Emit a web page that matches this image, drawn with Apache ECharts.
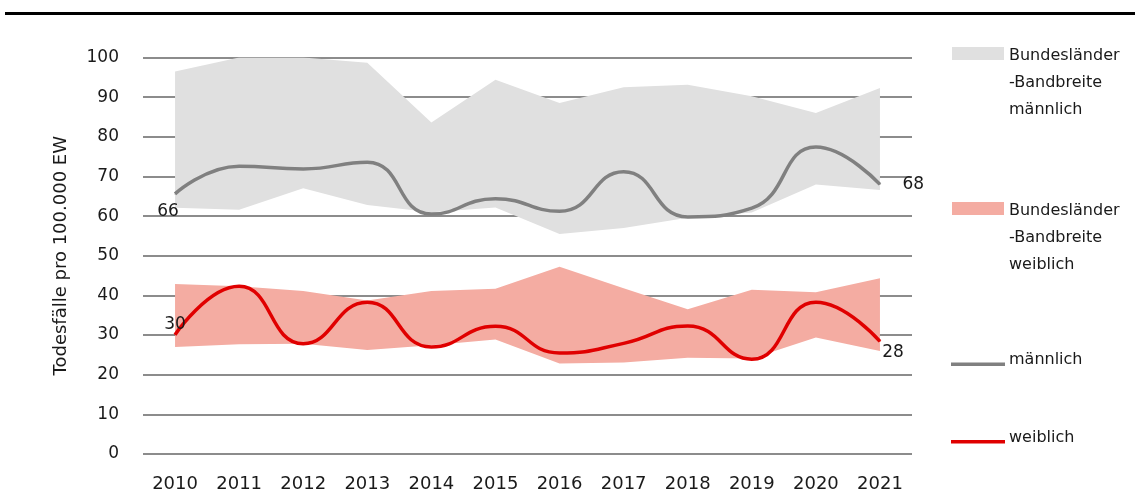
<!DOCTYPE html>
<html>
<head>
<meta charset="utf-8">
<script src="https://cdn.jsdelivr.net/npm/echarts@6/dist/echarts.min.js"></script>
<style>
  html, body { margin: 0; padding: 0; background: #fff; }
  #chart { width: 1135px; height: 493px; }
</style>
</head>
<body>
<div id="chart"></div>
<script>
// Todesfälle pro 100.000 EW, 2010-2021
var years = ['2010', '2011', '2012', '2013', '2014', '2015', '2016', '2017', '2018', '2019', '2020', '2021'];
var yTicks = [0, 10, 20, 30, 40, 50, 60, 70, 80, 90, 100];

// Bundesländer-Bandbreite männlich (min / max)
var maleMin = [62.1, 61.6, 67.0, 62.8, 61.0, 62.2, 55.5, 57.0, 59.6, 60.9, 68.0, 66.6];
var maleMax = [96.5, 100, 100, 98.7, 83.6, 94.4, 88.5, 92.5, 93.1, 90.2, 86.0, 92.3];
// Bundesländer-Bandbreite weiblich (min / max)
var femaleMin = [27.0, 27.7, 27.8, 26.2, 27.4, 28.9, 22.8, 23.1, 24.3, 24.1, 29.4, 26.0];
var femaleMax = [42.9, 42.3, 41.1, 38.7, 41.1, 41.7, 47.2, 41.8, 36.5, 41.4, 40.8, 44.3];

// Bundeswerte
var male = [65.6, 72.6, 71.9, 73.6, 60.5, 64.4, 61.2, 71.2, 59.8, 62.0, 77.4, 68.0];
var female = [30.1, 42.3, 27.8, 38.3, 27.0, 32.2, 25.5, 27.9, 32.3, 23.9, 38.3, 28.4];

var txt = '#1a1a1a';
var fnt = 'DejaVu Sans';

function diff(hi, lo) {
  return hi.map(function (v, i) { return +(v - lo[i]).toFixed(2); });
}

// Beschriftung nur am ersten und letzten Punkt
function endLabels(arr, first, last) {
  return arr.map(function (v, i) {
    if (i === 0) return { value: v, label: Object.assign({ show: true }, first) };
    if (i === arr.length - 1) return { value: v, label: Object.assign({ show: true }, last) };
    return v;
  });
}

var chart = echarts.init(document.getElementById('chart'));

var labelBase = {
  color: txt, fontFamily: fnt, fontSize: 17,
  formatter: function (p) { return Math.round(p.value); }
};

var option = {
  animation: false,
  textStyle: { fontFamily: fnt },
  grid: { left: 143, right: 223, top: 57.5, bottom: 37 },
  xAxis: {
    type: 'category',
    data: years,
    boundaryGap: true,
    axisLine: { show: false },
    axisTick: { show: false },
    axisLabel: { color: txt, fontFamily: fnt, fontSize: 18, margin: 21 }
  },
  yAxis: {
    type: 'value',
    min: yTicks[0],
    max: yTicks[yTicks.length - 1],
    interval: 10,
    name: 'Todesfälle pro 100.000 EW',
    nameLocation: 'middle',
    nameGap: 73,
    nameTextStyle: { color: txt, fontFamily: fnt, fontSize: 18 },
    axisLine: { show: false },
    axisTick: { show: false },
    axisLabel: { color: txt, fontFamily: fnt, fontSize: 17, margin: 24 },
    splitLine: { lineStyle: { color: '#8c8c8c', width: 2 } }
  },
  series: [
    {
      name: 'maleMin', type: 'line', stack: 'm', data: maleMin,
      symbol: 'none', lineStyle: { width: 0 }, areaStyle: { opacity: 0 }, silent: true
    },
    {
      name: 'Bundesländer-Bandbreite männlich', type: 'line', stack: 'm', data: diff(maleMax, maleMin),
      symbol: 'none', lineStyle: { width: 0 }, areaStyle: { color: '#e0e0e0', opacity: 1 }
    },
    {
      name: 'femaleMin', type: 'line', stack: 'f', data: femaleMin,
      symbol: 'none', lineStyle: { width: 0 }, areaStyle: { opacity: 0 }, silent: true
    },
    {
      name: 'Bundesländer-Bandbreite weiblich', type: 'line', stack: 'f', data: diff(femaleMax, femaleMin),
      symbol: 'none', lineStyle: { width: 0 }, areaStyle: { color: '#f4aca2', opacity: 1 }
    },
    {
      name: 'männlich', type: 'line', smooth: 0.5,
      data: endLabels(male,
        Object.assign({}, labelBase, { position: 'bottom', distance: 9, offset: [-7, 0] }),
        Object.assign({}, labelBase, { position: 'right', distance: 22 })),
      symbol: 'circle', symbolSize: 1, showSymbol: true,
      itemStyle: { color: '#808080' },
      lineStyle: { color: '#808080', width: 3.5 }
    },
    {
      name: 'weiblich', type: 'line', smooth: 0.5,
      data: endLabels(female,
        Object.assign({}, labelBase, { position: 'top', distance: 1 }),
        Object.assign({}, labelBase, { position: 'bottom', distance: 2, offset: [13, 0] })),
      symbol: 'circle', symbolSize: 1, showSymbol: true,
      itemStyle: { color: '#e00000' },
      lineStyle: { color: '#e00000', width: 3.5 }
    }
  ],
  graphic: [
    // Linie oben
    { type: 'rect', left: 5, top: 12, shape: { width: 1130, height: 3 }, style: { fill: '#000' } },
    // Legende
    { type: 'rect', left: 952, top: 47, shape: { width: 52, height: 13 }, style: { fill: '#e0e0e0' } },
    { type: 'text', left: 1009, top: 42, style: { text: 'Bundesländer\n-Bandbreite\nmännlich', fill: txt, font: '16px "DejaVu Sans"', lineHeight: 27 } },
    { type: 'rect', left: 952, top: 202, shape: { width: 52, height: 13 }, style: { fill: '#f4aca2' } },
    { type: 'text', left: 1009, top: 197, style: { text: 'Bundesländer\n-Bandbreite\nweiblich', fill: txt, font: '16px "DejaVu Sans"', lineHeight: 27 } },
    { type: 'rect', left: 951, top: 362.5, shape: { width: 54, height: 3.5 }, style: { fill: '#808080' } },
    { type: 'text', left: 1009, top: 352, style: { text: 'männlich', fill: txt, font: '16px "DejaVu Sans"' } },
    { type: 'rect', left: 951, top: 440, shape: { width: 54, height: 3.5 }, style: { fill: '#e00000' } },
    { type: 'text', left: 1009, top: 430, style: { text: 'weiblich', fill: txt, font: '16px "DejaVu Sans"' } }
  ]
};

chart.setOption(option);
</script>
</body>
</html>
